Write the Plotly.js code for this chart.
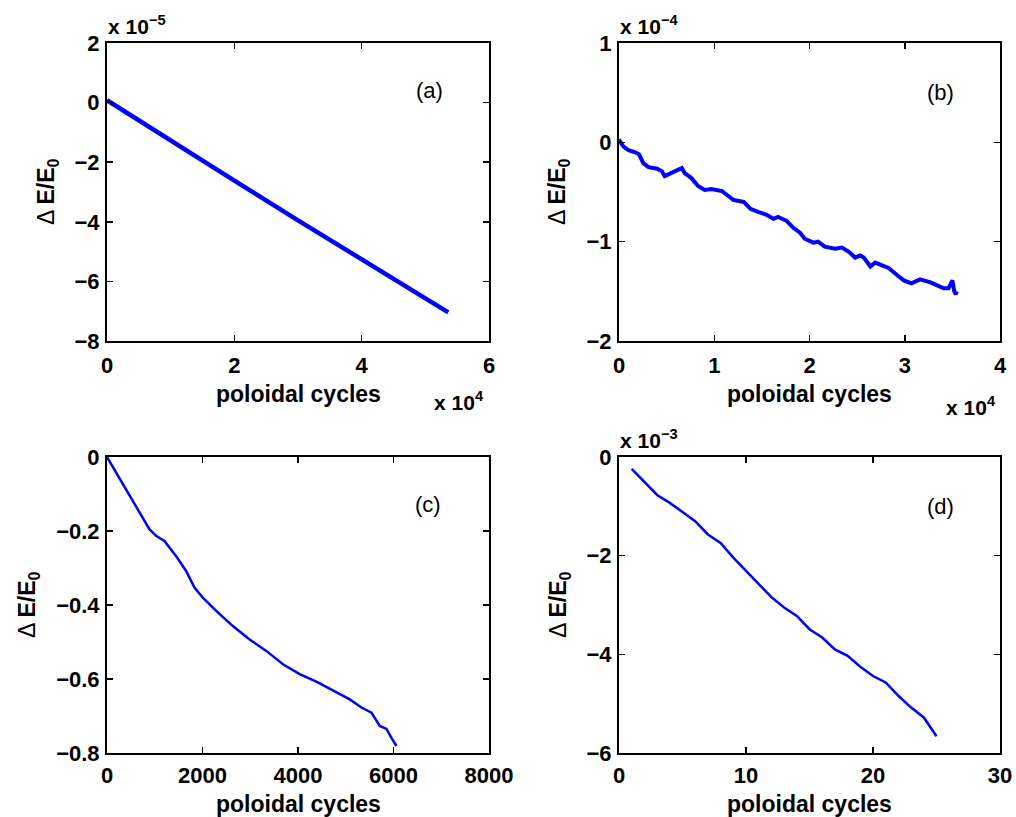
<!DOCTYPE html>
<html>
<head>
<meta charset="utf-8">
<script src="https://cdn.plot.ly/plotly-3.0.1.min.js"></script>
<style>html,body{margin:0;padding:0;background:#fff;}#plot{width:1016px;height:817px;}</style>
</head>
<body>
<div id="plot"></div>
<script>
// ---- Data (values in the units shown on each axis; see exponent labels) ----
// (a) x in units of 1e4 poloidal cycles, y in units of 1e-5
var aX = [0, 1, 2, 3, 4, 5, 5.36];
var aY = [0.08, -1.28, -2.62, -3.95, -5.27, -6.55, -7.04];

// (b) x in units of 1e4, y in units of 1e-4
var bX = [0.0, 0.01, 0.045, 0.10, 0.17, 0.21, 0.255, 0.31, 0.40, 0.45, 0.48, 0.535, 0.59, 0.66, 0.69, 0.76, 0.83, 0.90, 0.97, 1.08, 1.15, 1.20, 1.31, 1.38, 1.46, 1.55, 1.62, 1.67, 1.76, 1.83, 1.90, 1.95, 2.04, 2.09, 2.16, 2.27, 2.34, 2.41, 2.48, 2.53, 2.57, 2.64, 2.69, 2.76, 2.83, 2.90, 2.99, 3.07, 3.16, 3.27, 3.34, 3.41, 3.46, 3.50, 3.52, 3.535, 3.545];
var bY = [0.0, 0.01, -0.04, -0.08, -0.10, -0.12, -0.21, -0.25, -0.265, -0.29, -0.34, -0.31, -0.29, -0.26, -0.31, -0.36, -0.44, -0.48, -0.47, -0.49, -0.54, -0.58, -0.60, -0.67, -0.70, -0.73, -0.77, -0.75, -0.79, -0.86, -0.91, -0.97, -1.01, -1.00, -1.05, -1.07, -1.06, -1.10, -1.16, -1.14, -1.16, -1.25, -1.21, -1.24, -1.265, -1.32, -1.39, -1.42, -1.38, -1.41, -1.44, -1.47, -1.47, -1.39, -1.50, -1.53, -1.50];

// (c) x in poloidal cycles, y plain
var cX = [0, 294, 573, 888, 1028, 1203, 1448, 1657, 1832, 2007, 2287, 2636, 2986, 3336, 3685, 4035, 4385, 4734, 5084, 5329, 5538, 5713, 5853, 5958, 6063];
var cY = [0, -0.065, -0.123, -0.195, -0.213, -0.227, -0.268, -0.308, -0.353, -0.380, -0.416, -0.457, -0.493, -0.524, -0.560, -0.587, -0.607, -0.632, -0.655, -0.677, -0.691, -0.727, -0.735, -0.759, -0.781];

// (d) x in poloidal cycles, y in units of 1e-3
var dX = [1, 2, 3, 4, 5, 6, 7, 8, 9, 10, 11, 12, 13, 14, 15, 16, 17, 18, 19, 20, 21, 22, 23, 24, 25];
var dY = [-0.24, -0.50, -0.77, -0.93, -1.11, -1.30, -1.57, -1.74, -2.04, -2.31, -2.58, -2.84, -3.05, -3.22, -3.49, -3.66, -3.90, -4.03, -4.25, -4.44, -4.57, -4.84, -5.08, -5.28, -5.66];

var panelLabels = ['(a)', '(b)', '(c)', '(d)'];
var xTitle = 'poloidal cycles';
var yTitle = 'Δ <b>E/E<sub>0</sub></b>';

// ---- Layout helpers ----
var W = 1016, H = 817;
function px(x) { return x / W; }
function py(y) { return 1 - y / H; }

var FONT = 'Liberation Sans, Arial, Helvetica, sans-serif';
var tickFont = {family: FONT, size: 22, color: '#000', weight: 'bold'};

function axis(dom, range, dtick, anchor, standoff) {
  return {
    domain: dom, range: range, dtick: dtick, tick0: 0, anchor: anchor,
    showline: true, linecolor: '#000', linewidth: 2, mirror: 'ticks',
    ticks: 'inside', ticklen: 6, tickwidth: 1.5, tickcolor: '#000',
    showgrid: false, zeroline: false, tickfont: tickFont,
    ticklabelstandoff: standoff, automargin: false, fixedrange: true
  };
}

var xl = [px(107), px(489)], xr = [px(619), px(1000)];
var yt = [py(341), py(43)], yb = [py(753), py(457)];

var lineStyle = function (w) { return {color: '#0000ff', width: w}; };

var traces = [
  {x: aX, y: aY, xaxis: 'x', yaxis: 'y', mode: 'lines', line: lineStyle(4.5), hoverinfo: 'skip'},
  {x: bX, y: bY, xaxis: 'x2', yaxis: 'y2', mode: 'lines', line: lineStyle(4), hoverinfo: 'skip'},
  {x: cX, y: cY, xaxis: 'x3', yaxis: 'y3', mode: 'lines', line: lineStyle(2.5), hoverinfo: 'skip'},
  {x: dX, y: dY, xaxis: 'x4', yaxis: 'y4', mode: 'lines', line: lineStyle(2.5), hoverinfo: 'skip'}
];

function ann(text, x, y, opts) {
  var a = {text: text, x: px(x), y: py(y), xref: 'paper', yref: 'paper', showarrow: false,
           xanchor: 'center', yanchor: 'middle',
           font: {family: FONT, size: 23, color: '#000', weight: 'bold'}};
  for (var k in opts) a[k] = opts[k];
  return a;
}
var normalFont = {family: FONT, size: 22, color: '#000', weight: 'normal'};
var expFont = {family: FONT, size: 21, color: '#000', weight: 'bold'};
var yFont = {family: FONT, size: 23, color: '#000', weight: 'normal'};

var annotations = [
  ann(xTitle, 298, 394), ann(xTitle, 809.5, 394),
  ann(xTitle, 298, 804), ann(xTitle, 809.5, 804),
  ann(yTitle, 48, 192, {textangle: -90, font: yFont}),
  ann(yTitle, 559, 192, {textangle: -90, font: yFont}),
  ann(yTitle, 28, 605, {textangle: -90, font: yFont}),
  ann(yTitle, 559, 605, {textangle: -90, font: yFont}),
  ann(panelLabels[0], 429, 91, {font: normalFont}),
  ann(panelLabels[1], 940, 92, {font: normalFont}),
  ann(panelLabels[2], 428, 505, {font: normalFont}),
  ann(panelLabels[3], 940, 506, {font: normalFont}),
  ann('x 10<sup>−5</sup>', 106, 40, {xanchor: 'left', yanchor: 'bottom', font: expFont}),
  ann('x 10<sup>−4</sup>', 618, 40, {xanchor: 'left', yanchor: 'bottom', font: expFont}),
  ann('x 10<sup>−3</sup>', 618, 454, {xanchor: 'left', yanchor: 'bottom', font: expFont}),
  ann('x 10<sup>4</sup>', 432, 416, {xanchor: 'left', yanchor: 'bottom', font: expFont}),
  ann('x 10<sup>4</sup>', 944, 421, {xanchor: 'left', yanchor: 'bottom', font: expFont})
];

var layout = {
  width: W, height: H, margin: {l: 0, r: 0, t: 0, b: 0},
  paper_bgcolor: '#fff', plot_bgcolor: '#fff', showlegend: false,
  xaxis: axis(xl, [0, 6], 2, 'y', 4), yaxis: axis(yt, [-8, 2], 2, 'x', 1),
  xaxis2: axis(xr, [0, 4], 1, 'y2', 4), yaxis2: axis(yt, [-2, 1], 1, 'x2', 1),
  xaxis3: axis(xl, [0, 8000], 2000, 'y3', 2), yaxis3: axis(yb, [-0.8, 0], 0.2, 'x3', 1),
  xaxis4: axis(xr, [0, 30], 10, 'y4', 2), yaxis4: axis(yb, [-6, 0], 2, 'x4', 1),
  annotations: annotations
};

Plotly.newPlot('plot', traces, layout, {displayModeBar: false, staticPlot: true});
</script>
</body>
</html>
